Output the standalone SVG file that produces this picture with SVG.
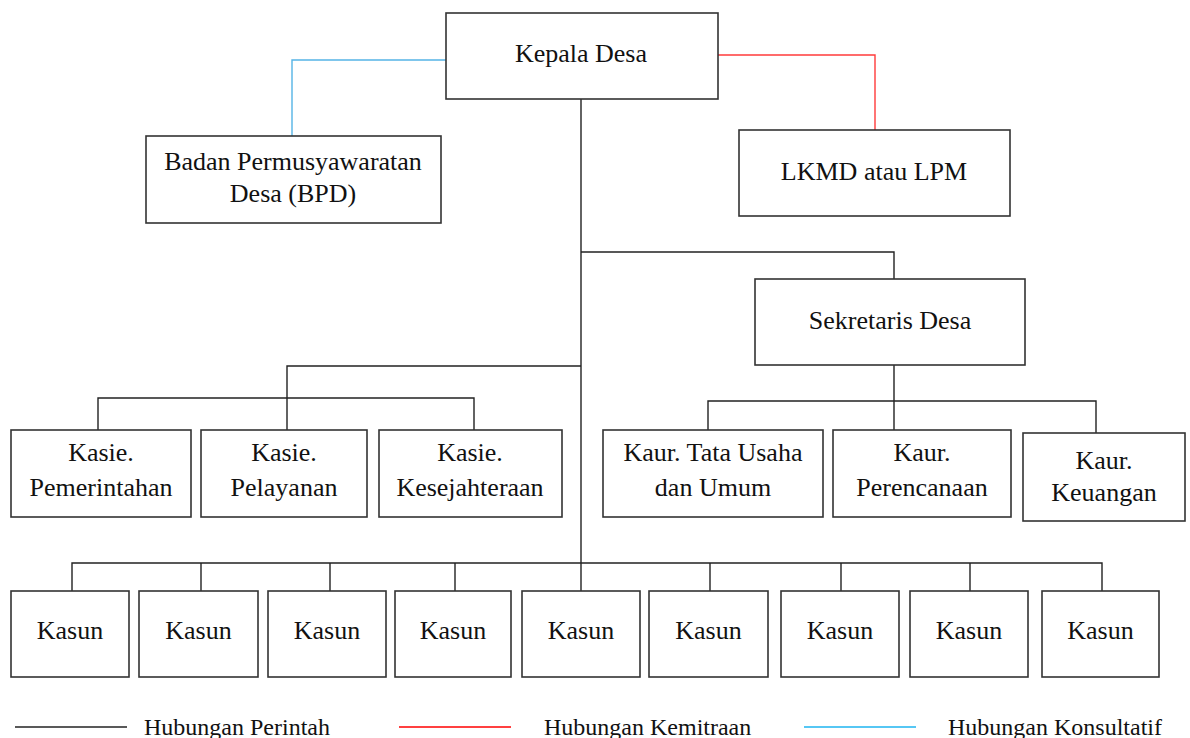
<svg xmlns="http://www.w3.org/2000/svg" width="1190" height="738" viewBox="0 0 1190 738">
<style>
.box{fill:#fff;stroke:#333;stroke-width:1.6}
.t{font-family:'Liberation Serif','Tinos','DejaVu Serif',serif;font-size:26px;fill:#111;text-anchor:middle}
.lg{font-family:'Liberation Serif','Tinos','DejaVu Serif',serif;font-size:24px;fill:#111}
.k{fill:none;stroke:#222;stroke-width:1.4}
.r{fill:none;stroke:#ff3b3b;stroke-width:1.4}
.b{fill:none;stroke:#55b4e6;stroke-width:1.4}
</style>
<rect width="1190" height="738" fill="#fff"/>
<g id="connectors">
<polyline class="b" points="446,60 292,60 292,136"/>
<polyline class="r" points="718,55 875,55 875,130"/>
<line class="k" x1="581" y1="99" x2="581" y2="591"/>
<polyline class="k" points="581,252 894,252 894,279"/>
<line class="k" x1="894" y1="365" x2="894" y2="430"/>
<polyline class="k" points="708,430 708,401 1096,401 1096,433"/>
<polyline class="k" points="581,366 287,366 287,430"/>
<polyline class="k" points="98,430 98,398 474,398 474,430"/>
<polyline class="k" points="72,591 72,563 1102,563 1102,591"/>
<line class="k" x1="201" y1="563" x2="201" y2="591"/>
<line class="k" x1="330" y1="563" x2="330" y2="591"/>
<line class="k" x1="455" y1="563" x2="455" y2="591"/>
<line class="k" x1="710" y1="563" x2="710" y2="591"/>
<line class="k" x1="841" y1="563" x2="841" y2="591"/>
<line class="k" x1="970" y1="563" x2="970" y2="591"/>
</g>
<g id="kepala"><rect class="box" x="446" y="13" width="272" height="86"/><text class="t" x="581" y="62">Kepala Desa</text></g>
<g id="bpd"><rect class="box" x="146" y="136" width="295" height="87"/><text class="t" x="293" y="170">Badan Permusyawaratan</text><text class="t" x="293" y="202">Desa (BPD)</text></g>
<g id="lkmd"><rect class="box" x="739" y="130" width="271" height="86"/><text class="t" x="874" y="180">LKMD atau LPM</text></g>
<g id="sekdes"><rect class="box" x="755" y="279" width="270" height="86"/><text class="t" x="890" y="329">Sekretaris Desa</text></g>
<g id="kasie1"><rect class="box" x="11" y="430" width="180" height="87"/><text class="t" x="101" y="461">Kasie.</text><text class="t" x="101" y="496">Pemerintahan</text></g>
<g id="kasie2"><rect class="box" x="201" y="430" width="166" height="87"/><text class="t" x="284" y="461">Kasie.</text><text class="t" x="284" y="496">Pelayanan</text></g>
<g id="kasie3"><rect class="box" x="379" y="430" width="183" height="87"/><text class="t" x="470" y="461">Kasie.</text><text class="t" x="470" y="496">Kesejahteraan</text></g>
<g id="kaur1"><rect class="box" x="603" y="430" width="220" height="87"/><text class="t" x="713" y="461">Kaur. Tata Usaha</text><text class="t" x="713" y="496">dan Umum</text></g>
<g id="kaur2"><rect class="box" x="833" y="430" width="178" height="87"/><text class="t" x="922" y="461">Kaur.</text><text class="t" x="922" y="496">Perencanaan</text></g>
<g id="kaur3"><rect class="box" x="1023" y="433" width="162" height="88"/><text class="t" x="1104" y="469">Kaur.</text><text class="t" x="1104" y="501">Keuangan</text></g>
<g id="kasun1"><rect class="box" x="11" y="591" width="118" height="86"/><text class="t" x="70" y="639">Kasun</text></g>
<g id="kasun2"><rect class="box" x="139" y="591" width="119" height="86"/><text class="t" x="198.500" y="639">Kasun</text></g>
<g id="kasun3"><rect class="box" x="268" y="591" width="118" height="86"/><text class="t" x="327" y="639">Kasun</text></g>
<g id="kasun4"><rect class="box" x="395" y="591" width="116" height="86"/><text class="t" x="453" y="639">Kasun</text></g>
<g id="kasun5"><rect class="box" x="522" y="591" width="118" height="86"/><text class="t" x="581" y="639">Kasun</text></g>
<g id="kasun6"><rect class="box" x="649" y="591" width="119" height="86"/><text class="t" x="708.500" y="639">Kasun</text></g>
<g id="kasun7"><rect class="box" x="781" y="591" width="118" height="86"/><text class="t" x="840" y="639">Kasun</text></g>
<g id="kasun8"><rect class="box" x="910" y="591" width="118" height="86"/><text class="t" x="969" y="639">Kasun</text></g>
<g id="kasun9"><rect class="box" x="1042" y="591" width="117" height="86"/><text class="t" x="1100.500" y="639">Kasun</text></g>
<g id="legend">
<line x1="15" y1="727" x2="127" y2="727" stroke="#222" stroke-width="1.4"/>
<text class="lg" x="144" y="735">Hubungan Perintah</text>
<line x1="399" y1="727" x2="511" y2="727" stroke="#ff0000" stroke-width="1.4"/>
<text class="lg" x="544" y="735">Hubungan Kemitraan</text>
<line x1="804" y1="727" x2="916" y2="727" stroke="#1eb4f0" stroke-width="1.4"/>
<text class="lg" x="948" y="735">Hubungan Konsultatif</text>
</g>
</svg>
